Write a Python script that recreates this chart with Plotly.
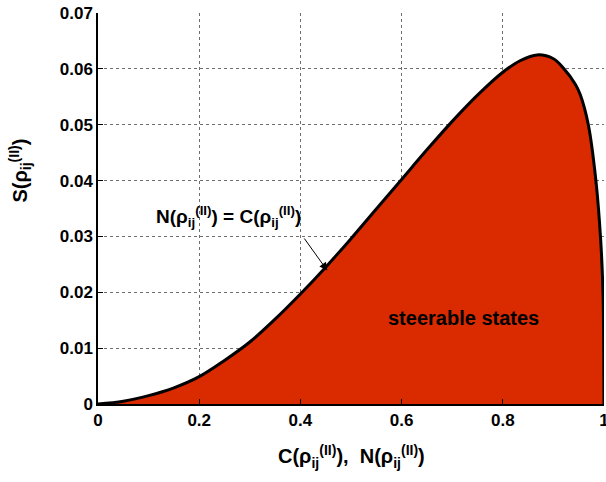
import plotly.graph_objects as go

# Data
C_vals = [0, 0.05, 0.10, 0.15, 0.20, 0.25, 0.30, 0.35, 0.40, 0.45, 0.50, 0.55, 0.60,
          0.65, 0.70, 0.75, 0.80, 0.835, 0.868, 0.90, 0.92, 0.943, 0.953, 0.969,
          0.984, 0.9934, 0.998, 0.9995, 1.0]
S_vals = [0, 0.0005, 0.0015, 0.0029, 0.0049, 0.0078, 0.0111, 0.0152, 0.0197, 0.0245,
          0.0296, 0.0349, 0.0402, 0.0455, 0.0506, 0.0553, 0.0594, 0.0615, 0.0625,
          0.0618, 0.0601, 0.0573, 0.0554, 0.0500, 0.0400, 0.0294, 0.0200, 0.0100, 0]

x_ticks = [0, 0.2, 0.4, 0.6, 0.8, 1.0]
x_ticklabels = ["0", "0.2", "0.4", "0.6", "0.8", "1"]
y_ticks = [0, 0.01, 0.02, 0.03, 0.04, 0.05, 0.06, 0.07]
y_ticklabels = ["0", "0.01", "0.02", "0.03", "0.04", "0.05", "0.06", "0.07"]

FONT = "Liberation Sans, Arial, sans-serif"
GRID = "rgb(110,110,110)"

fig = go.Figure()
fig.add_trace(go.Scatter(
    x=C_vals, y=S_vals, mode="lines", fill="tozeroy",
    fillcolor="rgb(217,42,0)",
    line=dict(color="black", width=3, shape="spline", smoothing=1.0),
    showlegend=False, hoverinfo="skip"))

axis_common = dict(
    showgrid=True, gridcolor=GRID, griddash="dot", gridwidth=1,
    showline=True, linecolor="black", linewidth=1.5, zeroline=False,
    ticks="inside", ticklen=5, tickcolor="black",
    tickfont=dict(family=FONT, size=17, color="black"),
    ticklabeloverflow="allow", automargin=False,
    layer="above traces")

fig.update_layout(
    width=606, height=482,
    margin=dict(l=98, r=2, t=13, b=78),
    plot_bgcolor="white", paper_bgcolor="white",
    font=dict(family=FONT, size=17, color="black"),
    xaxis=dict(range=[0, 1], tickvals=x_ticks,
               ticktext=[f"<b>{t}</b>" for t in x_ticklabels], **axis_common),
    yaxis=dict(range=[0, 0.07], tickvals=y_ticks,
               ticktext=[f"<b>{t}</b>" for t in y_ticklabels], **axis_common),
)

# x-axis title
fig.add_annotation(x=0.5, y=-0.135, xref="paper", yref="paper", showarrow=False,
                   xanchor="center", yanchor="middle",
                   text="<b>C(ρ<sub>ij</sub><sup>(II)</sup>),  N(ρ<sub>ij</sub><sup>(II)</sup>)</b>",
                   font=dict(family=FONT, size=20, color="black"))
# y-axis title
fig.add_annotation(x=-0.153, y=0.596, xref="paper", yref="paper", showarrow=False,
                   xanchor="center", yanchor="middle", textangle=-90,
                   text="<b>S(ρ<sub>ij</sub><sup>(II)</sup>)</b>",
                   font=dict(family=FONT, size=20, color="black"))

fig.add_annotation(x=0.4532, y=0.02389, ax=0.4057, ay=0.02989, xref="x", yref="y",
                   axref="x", ayref="y", showarrow=True, arrowhead=2, arrowsize=1.6,
                   arrowwidth=1, arrowcolor="black", text="")
fig.add_annotation(x=0.257, y=0.0336, xref="x", yref="y", showarrow=False,
                   text="<b>N(ρ<sub>ij</sub><sup>(II)</sup>) = C(ρ<sub>ij</sub><sup>(II)</sup>)</b>",
                   font=dict(family=FONT, size=19, color="black"))
fig.add_annotation(x=0.722, y=0.0154, xref="x", yref="y", showarrow=False,
                   text="<b>steerable states</b>",
                   font=dict(family=FONT, size=20, color="black"))

fig.write_html("out.html")
